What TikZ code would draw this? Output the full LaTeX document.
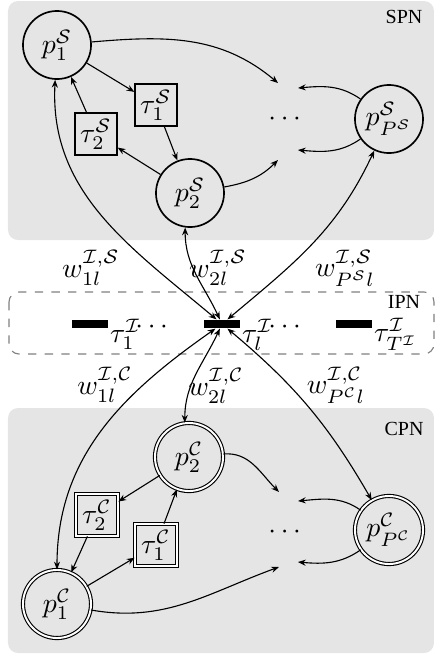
\documentclass[tikz,border=0pt]{standalone}
\usepackage{amsmath,amssymb}
\usepackage{fontspec}
\newfontfamily\netfont{Liberation Serif}
\usetikzlibrary{arrows.meta,positioning}

\begin{document}
\begin{tikzpicture}[x=0.36pt,y=0.36pt,>={Stealth[length=2.8pt,width=2.2pt]}]
  \tikzstyle{net}=[fill=black!10,rounded corners=3.6pt]
  \tikzstyle{netname}=[font=\netfont\fontsize{7.2}{8}\selectfont,inner sep=0pt]
  \tikzstyle{splace}=[draw,circle,semithick,minimum size=24.5pt,inner sep=1pt]
  \tikzstyle{cplace}=[draw,circle,double,line width=0.4pt,double distance=0.7pt,minimum size=24.5pt,inner sep=1pt]
  \tikzstyle{strans}=[draw,rectangle,semithick,minimum size=15pt,inner sep=1pt]
  \tikzstyle{ctrans}=[draw,rectangle,double,line width=0.4pt,double distance=0.7pt,minimum size=15pt,inner sep=1pt]
  \tikzstyle{itrans}=[fill=black,minimum width=13.3pt,minimum height=2.9pt,inner sep=0pt]
  \tikzstyle{tlabel}=[inner sep=0.2pt,node distance=0pt,yshift=-3.8pt]
  \tikzstyle{wlabel}=[inner sep=0pt]
  \tikzstyle{more}=[inner sep=0pt]
  \useasboundingbox (0,0) rectangle (435,-657);
  \fill[net] (8,-1) rectangle (434,-240);
  \draw[gray,dashed,rounded corners=3.6pt] (9,-292) rectangle (434,-354);
  \fill[net] (8,-408) rectangle (434,-653);
  \node[netname] (spn) at (404,-17) {SPN};
  \node[netname] (ipn) at (404,-302) {IPN};
  \node[netname] (cpn) at (404,-429) {CPN};

  \node[splace] (p1S) at (57,-45) {$p_1^{\mathcal{S}}$};
  \node[strans] (t1S) at (156,-105) {$\tau_1^{\mathcal{S}}$};
  \node[strans] (t2S) at (96,-134) {$\tau_2^{\mathcal{S}}$};
  \node[splace] (p2S) at (190,-193) {$p_2^{\mathcal{S}}$};
  \node[splace] (pPS) at (389,-119) {$p_{P^{\mathcal{S}}}^{\mathcal{S}}$};
  \node[more] (dotsS) at (287,-119) {$\cdots$};
  \coordinate (sa) at (278,-83);
  \coordinate (sb) at (298,-88);
  \coordinate (sc) at (278,-160);
  \coordinate (sd) at (298,-150);

  \node[itrans] (t1I) at (90,-324) {};
  \node[itrans] (tlI) at (222,-324) {};
  \node[itrans] (tTI) at (354,-324) {};
  \node[tlabel,right=of t1I] (t1Ilab) {$\tau_1^{\mathcal{I}}$};
  \node[tlabel,right=of tlI] (tlIlab) {$\tau_l^{\mathcal{I}}$};
  \node[tlabel,right=of tTI] (tTIlab) {$\tau_{T^{\mathcal{I}}}^{\mathcal{I}}$};
  \node[more] (dotsI1) at (154,-327) {$\cdots$};
  \node[more] (dotsI2) at (287,-327) {$\cdots$};

  \node[cplace] (p2C) at (189,-457) {$p_2^{\mathcal{C}}$};
  \node[ctrans] (t2C) at (97,-515) {$\tau_2^{\mathcal{C}}$};
  \node[ctrans] (t1C) at (156,-545) {$\tau_1^{\mathcal{C}}$};
  \node[cplace] (p1C) at (57,-604) {$p_1^{\mathcal{C}}$};
  \node[cplace] (pPC) at (389,-530) {$p_{P^{\mathcal{C}}}^{\mathcal{C}}$};
  \node[more] (dotsC) at (287,-532) {$\cdots$};
  \coordinate (ca) at (279,-492);
  \coordinate (cb) at (298,-501);
  \coordinate (cc) at (279,-567);
  \coordinate (cd) at (298,-562);

  \node[wlabel] (wS1) at (91,-268) {$w_{1l}^{\mathcal{I},\mathcal{S}}$};
  \node[wlabel] (wS2) at (218,-268) {$w_{2l}^{\mathcal{I},\mathcal{S}}$};
  \node[wlabel] (wSP) at (345,-268) {$w_{P^{\mathcal{S}}l}^{\mathcal{I},\mathcal{S}}$};
  \node[wlabel] (wC1) at (105,-385) {$w_{1l}^{\mathcal{I},\mathcal{C}}$};
  \node[wlabel] (wC2) at (216,-386) {$w_{2l}^{\mathcal{I},\mathcal{C}}$};
  \node[wlabel] (wCP) at (336,-385) {$w_{P^{\mathcal{C}}l}^{\mathcal{I},\mathcal{C}}$};

  \foreach \a/\b in {p1S/t1S,t1S/p2S,p2S/t2S,t2S/p1S,p2C/t2C,t2C/p1C,p1C/t1C,t1C/p2C}
    \draw[->] (\a) -- (\b);
  \foreach \a/\o/\i/\b in {p1S/5/140/sa,pPS/145/5/sb,p2S/10/225/sc,pPS/215/-5/sd,p2C/5/135/ca,pPC/145/5/cb,p1C/-10/200/cc,pPC/215/-5/cd}
    \draw[->] (\a) to[out=\o,in=\i] (\b);
  \foreach \a/\o/\i/\b in {p1S/267/140/tlI,p2S.262/-90/115/tlI,pPS/245/40/tlI,tlI/215/90/p1C,tlI/245/90/p2C.97,tlI/-40/120/pPC}
    \draw[<->] (\a) to[out=\o,in=\i] (\b);
\end{tikzpicture}
\end{document}
